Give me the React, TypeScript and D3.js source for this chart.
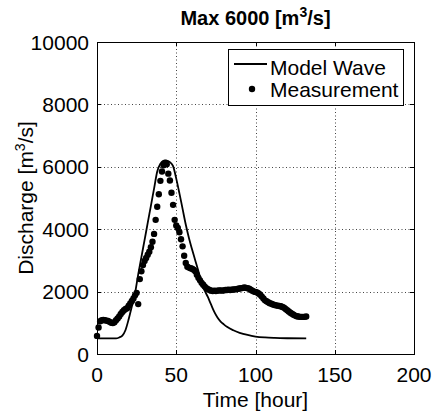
import { useEffect, useRef } from 'react';
import * as d3 from 'd3';

// Model wave (hour, discharge)
const modelHour = [0, 6, 12, 14, 16, 18, 20, 22, 24, 26, 28, 30, 32, 34, 36, 38, 40, 42, 44, 46, 48, 50, 52, 54, 56, 58, 60, 62, 64, 66, 68, 70, 72, 74, 76, 78, 80, 82, 86, 90, 95, 100, 106, 112, 120, 132];
const modelQ = [500, 500, 500, 530, 590, 770, 1120, 1530, 1950, 2550, 3100, 3650, 4200, 4750, 5300, 5850, 6100, 6190, 6200, 6150, 6020, 5620, 5150, 4650, 4150, 3720, 3350, 3000, 2650, 2320, 2030, 1820, 1580, 1350, 1170, 1040, 950, 870, 760, 680, 610, 560, 530, 515, 505, 500];

// Measurement, hourly from 0 to 132
const measHour = [
  0, 1, 2, 3, 4, 5, 6, 7, 8, 9, 10, 11, 12, 13, 14, 15, 16, 17, 18, 19,
  20, 21, 22, 23, 24, 25, 26, 27, 28, 29, 30, 31, 32, 33, 34, 35, 36, 37, 38, 39,
  40, 41, 42, 43, 44, 45, 46, 47, 48, 49, 50, 51, 52, 53, 54, 55, 56, 57, 58, 59,
  60, 61, 62, 63, 64, 65, 66, 67, 68, 69, 70, 71, 72, 73, 74, 75, 76, 77, 78, 79,
  80, 81, 82, 83, 84, 85, 86, 87, 88, 89, 90, 91, 92, 93, 94, 95, 96, 97, 98, 99,
  100, 101, 102, 103, 104, 105, 106, 107, 108, 109, 110, 111, 112, 113, 114, 115, 116, 117, 118, 119,
  120, 121, 122, 123, 124, 125, 126, 127, 128, 129, 130, 131, 132,
];
const measQ = [
  580, 850, 1050, 1080, 1090, 1080, 1070, 1060, 1030, 1000, 990, 1020, 1080, 1140, 1200, 1280, 1350, 1400, 1440, 1470,
  1550, 1620, 1700, 1780, 1880, 1960, 1600, 2400, 2650, 2850, 2980, 3080, 3180, 3280, 3420, 3600, 3850, 4300, 4720, 5120,
  5550, 5850, 6050, 6130, 6080, 5780, 5560, 5170, 4780, 4300, 4120, 4040, 3900, 3680, 3450, 3150, 2920, 2800, 2770, 2750,
  2730, 2700, 2650, 2540, 2440, 2360, 2280, 2220, 2160, 2110, 2080, 2050, 2030, 2020, 2030, 2020, 2030, 2040, 2040, 2030,
  2040, 2050, 2050, 2060, 2050, 2060, 2070, 2070, 2080, 2090, 2100, 2110, 2120, 2130, 2120, 2110, 2090, 2060, 2030, 2000,
  1990, 1970, 1940, 1900, 1840, 1780, 1720, 1690, 1660, 1630, 1610, 1590, 1570, 1560, 1550, 1540, 1530, 1510, 1480, 1440,
  1400, 1360, 1320, 1290, 1260, 1230, 1210, 1200, 1190, 1190, 1190, 1190, 1200,
];

const xTicks = [0, 50, 100, 150, 200];
const yTicks = [0, 2000, 4000, 6000, 8000, 10000];

const FONT = '"Liberation Sans", Arial, Helvetica, sans-serif';
const FS = 21;

export default function App() {
  const svgRef = useRef<SVGSVGElement>(null);

  useEffect(() => {
    if (!svgRef.current) return;
    const W = 437, H = 416;
    const m = { left: 97, right: 414, top: 42, bottom: 354 };

    const svg = d3.select(svgRef.current);
    svg.selectAll('*').remove();
    svg.attr('width', W).attr('height', H);

    const x = d3.scaleLinear().domain([0, 200]).range([m.left, m.right]);
    const y = d3.scaleLinear().domain([0, 10000]).range([m.bottom, m.top]);

    svg.append('rect').attr('width', W).attr('height', H).attr('fill', '#fff');

    // grid (dotted)
    const grid = svg.append('g').attr('stroke', '#444').attr('stroke-width', 1).attr('stroke-dasharray', '1,2.5');
    grid.selectAll('line.gx')
      .data(xTicks.slice(1, -1))
      .join('line')
      .attr('x1', (d) => Math.round(x(d)) + 0.5)
      .attr('x2', (d) => Math.round(x(d)) + 0.5)
      .attr('y1', m.top)
      .attr('y2', m.bottom);
    grid.selectAll('line.gy')
      .data(yTicks.slice(1, -1))
      .join('line')
      .attr('y1', (d) => Math.round(y(d)) + 0.5)
      .attr('y2', (d) => Math.round(y(d)) + 0.5)
      .attr('x1', m.left)
      .attr('x2', m.right);

    // model wave
    const line = d3.line<number>()
      .x((_, i) => x(modelHour[i]))
      .y((d) => y(d))
      .curve(d3.curveMonotoneX);
    svg.append('path')
      .attr('d', line(modelQ))
      .attr('fill', 'none')
      .attr('stroke', '#000')
      .attr('stroke-width', 1.8);

    // measurement dots
    svg.append('g')
      .selectAll('circle')
      .data(measQ)
      .join('circle')
      .attr('cx', (_, i) => x(measHour[i]))
      .attr('cy', (d) => y(d))
      .attr('r', 3.2)
      .attr('fill', '#000');

    // box + ticks
    svg.append('rect')
      .attr('x', m.left + 0.5).attr('y', m.top + 0.5)
      .attr('width', m.right - m.left).attr('height', m.bottom - m.top)
      .attr('fill', 'none').attr('stroke', '#000').attr('stroke-width', 1);

    const tk = svg.append('g').attr('stroke', '#000').attr('stroke-width', 1);
    const tl = 4;
    xTicks.forEach((t) => {
      const px = Math.round(x(t)) + 0.5;
      tk.append('line').attr('x1', px).attr('x2', px).attr('y1', m.bottom).attr('y2', m.bottom - tl);
      tk.append('line').attr('x1', px).attr('x2', px).attr('y1', m.top).attr('y2', m.top + tl);
    });
    yTicks.forEach((t) => {
      const py = Math.round(y(t)) + 0.5;
      tk.append('line').attr('x1', m.left).attr('x2', m.left + tl).attr('y1', py).attr('y2', py);
      tk.append('line').attr('x1', m.right).attr('x2', m.right - tl).attr('y1', py).attr('y2', py);
    });

    // tick labels
    svg.append('g')
      .selectAll('text')
      .data(xTicks)
      .join('text')
      .attr('x', (d) => x(d))
      .attr('y', 382)
      .attr('text-anchor', 'middle')
      .attr('font-family', FONT)
      .attr('font-size', FS)
      .text((d) => d);
    svg.append('g')
      .selectAll('text')
      .data(yTicks)
      .join('text')
      .attr('x', 89)
      .attr('y', (d) => y(d) + 7.5)
      .attr('text-anchor', 'end')
      .attr('font-family', FONT)
      .attr('font-size', FS)
      .text((d) => d);

    // axis labels
    svg.append('text')
      .attr('x', (m.left + m.right) / 2)
      .attr('y', 407)
      .attr('text-anchor', 'middle')
      .attr('font-family', FONT)
      .attr('font-size', FS)
      .text('Time [hour]');

    const yl = svg.append('text')
      .attr('transform', `translate(33,${(m.top + m.bottom) / 2}) rotate(-90)`)
      .attr('text-anchor', 'middle')
      .attr('font-family', FONT)
      .attr('font-size', FS);
    yl.append('tspan').text('Discharge [m');
    yl.append('tspan').attr('dy', -8).attr('font-size', 14).text('3');
    yl.append('tspan').attr('dy', 8).text('/s]');

    // title
    const tt = svg.append('text')
      .attr('x', (m.left + m.right) / 2)
      .attr('y', 25)
      .attr('text-anchor', 'middle')
      .attr('font-family', FONT)
      .attr('font-size', 20)
      .attr('font-weight', 'bold');
    tt.append('tspan').text('Max 6000 [m');
    tt.append('tspan').attr('dy', -8).attr('font-size', 14).text('3');
    tt.append('tspan').attr('dy', 8).text('/s]');

    // legend
    const lg = svg.append('g');
    lg.append('rect')
      .attr('x', 228.5).attr('y', 49.5).attr('width', 175).attr('height', 56)
      .attr('fill', '#fff').attr('stroke', '#000').attr('stroke-width', 1);
    lg.append('line')
      .attr('x1', 234).attr('x2', 267).attr('y1', 64).attr('y2', 64)
      .attr('stroke', '#000').attr('stroke-width', 1.8);
    lg.append('circle').attr('cx', 252).attr('cy', 89).attr('r', 3.2).attr('fill', '#000');
    lg.append('text').attr('x', 270).attr('y', 75)
      .attr('font-family', FONT).attr('font-size', FS).text('Model Wave');
    lg.append('text').attr('x', 270).attr('y', 97)
      .attr('font-family', FONT).attr('font-size', FS).text('Measurement');
  }, []);

  return (
    <div style={{ position: 'absolute', left: 0, top: 0 }}>
      <svg ref={svgRef} style={{ display: 'block' }} />
    </div>
  );
}
